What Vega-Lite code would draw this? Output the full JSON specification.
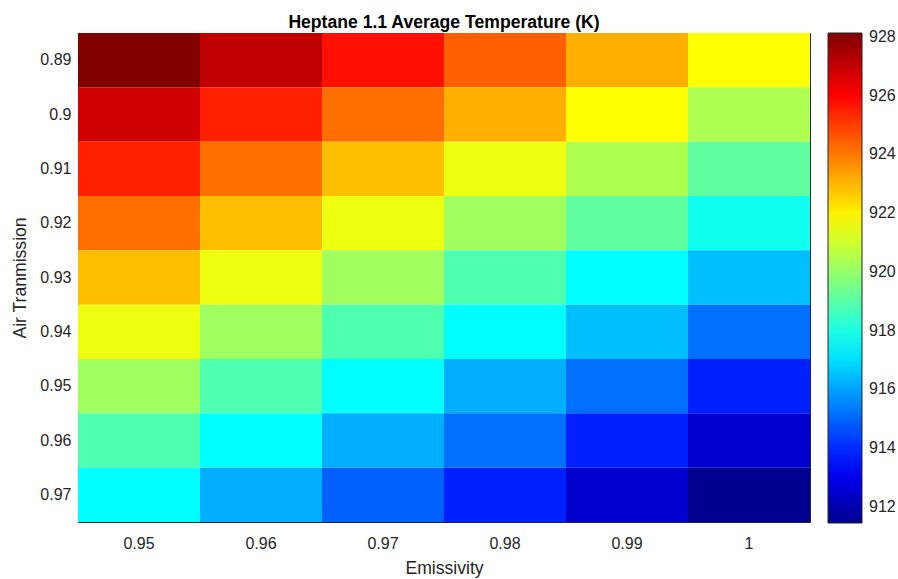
{
  "$schema": "https://vega.github.io/schema/vega-lite/v6.json",
  "width": 732,
  "height": 489,
  "autosize": {"type": "none"},
  "padding": {"left": 78, "top": 33, "right": 88, "bottom": 57},
  "title": {
    "text": "Heptane 1.1 Average Temperature (K)",
    "fontSize": 17.6,
    "fontWeight": "bold",
    "font": "Liberation Sans",
    "color": "#000000",
    "anchor": "middle",
    "offset": 5,
    "dy": 18,
    "baseline": "alphabetic"
  },
  "data": {
    "values": [
      {"Emissivity": 0.95, "Transmission": 0.89, "T": 928.13},
      {"Emissivity": 0.96, "Transmission": 0.89, "T": 927.07},
      {"Emissivity": 0.97, "Transmission": 0.89, "T": 925.75},
      {"Emissivity": 0.98, "Transmission": 0.89, "T": 924.42},
      {"Emissivity": 0.99, "Transmission": 0.89, "T": 923.10},
      {"Emissivity": 1, "Transmission": 0.89, "T": 921.78},
      {"Emissivity": 0.95, "Transmission": 0.9, "T": 926.81},
      {"Emissivity": 0.96, "Transmission": 0.9, "T": 925.48},
      {"Emissivity": 0.97, "Transmission": 0.9, "T": 924.16},
      {"Emissivity": 0.98, "Transmission": 0.9, "T": 923.10},
      {"Emissivity": 0.99, "Transmission": 0.9, "T": 921.78},
      {"Emissivity": 1, "Transmission": 0.9, "T": 920.45},
      {"Emissivity": 0.95, "Transmission": 0.91, "T": 925.48},
      {"Emissivity": 0.96, "Transmission": 0.91, "T": 924.16},
      {"Emissivity": 0.97, "Transmission": 0.91, "T": 922.84},
      {"Emissivity": 0.98, "Transmission": 0.91, "T": 921.51},
      {"Emissivity": 0.99, "Transmission": 0.91, "T": 920.45},
      {"Emissivity": 1, "Transmission": 0.91, "T": 919.13},
      {"Emissivity": 0.95, "Transmission": 0.92, "T": 924.16},
      {"Emissivity": 0.96, "Transmission": 0.92, "T": 922.84},
      {"Emissivity": 0.97, "Transmission": 0.92, "T": 921.51},
      {"Emissivity": 0.98, "Transmission": 0.92, "T": 920.19},
      {"Emissivity": 0.99, "Transmission": 0.92, "T": 919.13},
      {"Emissivity": 1, "Transmission": 0.92, "T": 917.80},
      {"Emissivity": 0.95, "Transmission": 0.93, "T": 922.84},
      {"Emissivity": 0.96, "Transmission": 0.93, "T": 921.51},
      {"Emissivity": 0.97, "Transmission": 0.93, "T": 920.19},
      {"Emissivity": 0.98, "Transmission": 0.93, "T": 918.86},
      {"Emissivity": 0.99, "Transmission": 0.93, "T": 917.54},
      {"Emissivity": 1, "Transmission": 0.93, "T": 916.48},
      {"Emissivity": 0.95, "Transmission": 0.94, "T": 921.51},
      {"Emissivity": 0.96, "Transmission": 0.94, "T": 920.19},
      {"Emissivity": 0.97, "Transmission": 0.94, "T": 918.86},
      {"Emissivity": 0.98, "Transmission": 0.94, "T": 917.54},
      {"Emissivity": 0.99, "Transmission": 0.94, "T": 916.48},
      {"Emissivity": 1, "Transmission": 0.94, "T": 915.16},
      {"Emissivity": 0.95, "Transmission": 0.95, "T": 920.19},
      {"Emissivity": 0.96, "Transmission": 0.95, "T": 918.86},
      {"Emissivity": 0.97, "Transmission": 0.95, "T": 917.54},
      {"Emissivity": 0.98, "Transmission": 0.95, "T": 916.22},
      {"Emissivity": 0.99, "Transmission": 0.95, "T": 915.16},
      {"Emissivity": 1, "Transmission": 0.95, "T": 913.83},
      {"Emissivity": 0.95, "Transmission": 0.96, "T": 918.86},
      {"Emissivity": 0.96, "Transmission": 0.96, "T": 917.54},
      {"Emissivity": 0.97, "Transmission": 0.96, "T": 916.22},
      {"Emissivity": 0.98, "Transmission": 0.96, "T": 915.16},
      {"Emissivity": 0.99, "Transmission": 0.96, "T": 913.83},
      {"Emissivity": 1, "Transmission": 0.96, "T": 912.51},
      {"Emissivity": 0.95, "Transmission": 0.97, "T": 917.54},
      {"Emissivity": 0.96, "Transmission": 0.97, "T": 916.22},
      {"Emissivity": 0.97, "Transmission": 0.97, "T": 914.89},
      {"Emissivity": 0.98, "Transmission": 0.97, "T": 913.83},
      {"Emissivity": 0.99, "Transmission": 0.97, "T": 912.51},
      {"Emissivity": 1, "Transmission": 0.97, "T": 911.45}
    ]
  },
  "layer": [
    {
      "mark": {"type": "rect"},
      "encoding": {
        "x": {
          "field": "Emissivity",
          "type": "ordinal",
          "scale": {"paddingInner": 0, "paddingOuter": 0},
          "axis": {"orient": "bottom", "title": "Emissivity", "labelAngle": 0, "labelPadding": 20, "titlePadding": 8}
        },
        "y": {
          "field": "Transmission",
          "type": "ordinal",
          "scale": {"paddingInner": 0, "paddingOuter": 0},
          "axis": {"orient": "left", "title": "Air Tranmission", "labelPadding": 14, "titlePadding": 10}
        },
        "color": {
          "field": "T",
          "type": "quantitative",
          "scale": {
            "domain": [911.45, 913.303, 917.540, 921.776, 926.012, 928.13],
            "range": ["#00008f", "#0000ff", "#00ffff", "#ffff00", "#ff0000", "#800000"],
            "interpolate": "rgb"
          },
          "legend": {
            "orient": "none",
            "legendX": 750,
            "legendY": 0,
            "title": null,
            "direction": "vertical",
            "gradientLength": 490,
            "gradientThickness": 34,
            "values": [912, 914, 916, 918, 920, 922, 924, 926, 928],
            "labelFontSize": 16,
            "labelFont": "Liberation Sans",
            "labelColor": "#262626",
            "labelOffset": 7,
            "labelOverlap": false,
            "gradientStrokeColor": "#262626",
            "gradientStrokeWidth": 1
          }
        }
      }
    },
    {
      "mark": {"type": "rect", "opacity": 0},
      "encoding": {
        "x": {
          "field": "Emissivity",
          "type": "ordinal",
          "axis": {"orient": "top", "title": null, "labels": false}
        },
        "y": {
          "field": "Transmission",
          "type": "ordinal",
          "axis": {"orient": "right", "title": null, "labels": false}
        }
      }
    }
  ],
  "resolve": {"axis": {"x": "independent", "y": "independent"}},
  "config": {
    "view": {"stroke": null},
    "axis": {
      "domainColor": "#262626",
      "domainWidth": 1,
      "tickColor": "#262626",
      "tickWidth": 1,
      "tickSize": -7,
      "labelColor": "#262626",
      "titleColor": "#262626",
      "labelFont": "Liberation Sans",
      "titleFont": "Liberation Sans",
      "labelFontSize": 16,
      "titleFontSize": 17.6,
      "titleFontWeight": "normal",
      "zindex": 1,
      "grid": false
    }
  }
}
